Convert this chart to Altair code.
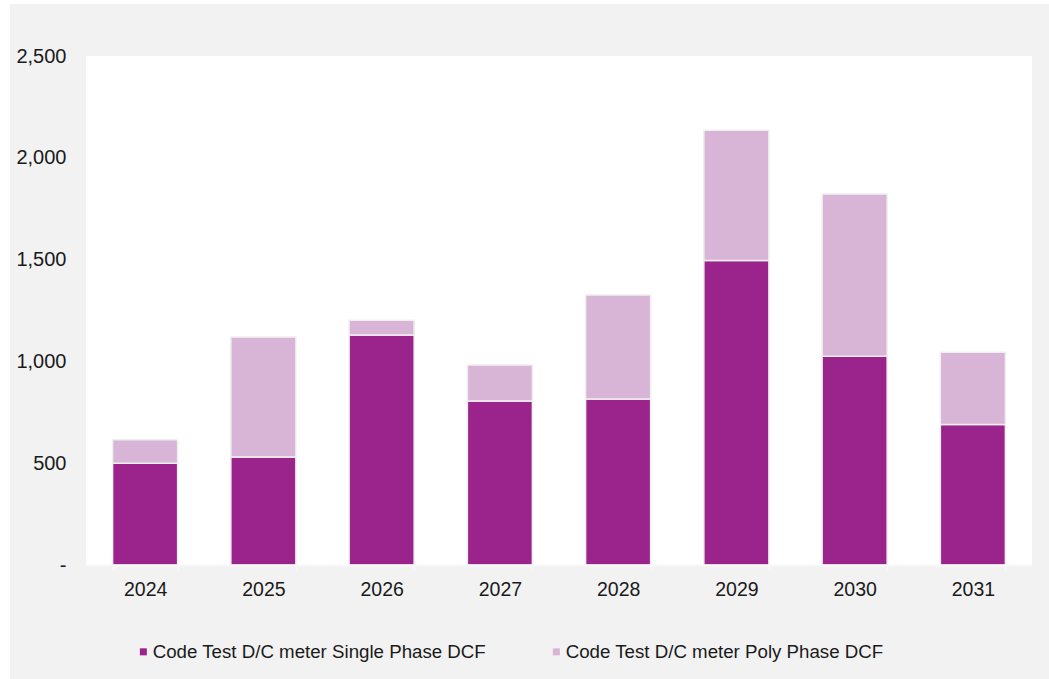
import altair as alt
import pandas as pd

years = ["2024", "2025", "2026", "2027", "2028", "2029", "2030", "2031"]
single_phase = [500, 530, 1130, 805, 815, 1495, 1025, 690]
poly_phase = [115, 590, 72, 177, 511, 640, 797, 355]
series_names = [
    "Code Test D/C meter Single Phase DCF",
    "Code Test D/C meter Poly Phase DCF",
]
series_colors = ["#9a248b", "#d8b5d6"]
y_ticks = [0, 500, 1000, 1500, 2000, 2500]

rows = []
for i, yr in enumerate(years):
    rows.append({"year": yr, "series": series_names[0], "value": single_phase[i], "order": 0})
    rows.append({"year": yr, "series": series_names[1], "value": poly_phase[i], "order": 1})
df = pd.DataFrame(rows)

W, H = 946, 509
FONT = "Liberation Sans"

one = pd.DataFrame({"k": [0]})

# grey outer panel and white plot panel
outer_panel = alt.Chart(one).mark_rect(color="#f2f2f2").encode(
    x=alt.value(-76), x2=alt.value(963), y=alt.value(-52), y2=alt.value(623)
)
plot_panel = alt.Chart(one).mark_rect(color="#ffffff").encode(
    x=alt.value(0), x2=alt.value(W), y=alt.value(0), y2=alt.value(H)
)

bars = alt.Chart(df).mark_bar(stroke="#efefef", strokeWidth=1.5).encode(
    x=alt.X(
        "year:N",
        sort=years,
        title=None,
        scale=alt.Scale(paddingInner=0.45, paddingOuter=0.225),
        axis=alt.Axis(
            labelAngle=0,
            labelFontSize=19.5,
            labelColor="#1a1a1a",
            labelPadding=10,
            tickSize=5,
            tickBand="extent",
            tickColor="#f7f7f7",
            tickWidth=2,
            domainColor="#f7f7f7",
            domainWidth=2,
            grid=False,
            zindex=1,
        ),
    ),
    y=alt.Y(
        "value:Q",
        stack="zero",
        title=None,
        scale=alt.Scale(domain=[0, 2500], nice=False),
        axis=alt.Axis(
            values=y_ticks,
            labelExpr="datum.value == 0 ? '-' : format(datum.value, ',')",
            labelFontSize=20,
            labelColor="#1a1a1a",
            labelPadding=20,
            ticks=False,
            domain=False,
            grid=False,
            zindex=1,
        ),
    ),
    color=alt.Color(
        "series:N",
        scale=alt.Scale(domain=series_names, range=series_colors),
        legend=alt.Legend(
            title=None,
            orient="none",
            legendX=48,
            legendY=586,
            direction="horizontal",
            symbolType="square",
            symbolSize=49,
            symbolStrokeWidth=0,
            labelFontSize=18.7,
            labelColor="#1a1a1a",
            labelOffset=0,
            columnPadding=60,
            padding=0,
            labelLimit=600,
        ),
    ),
    order=alt.Order("order:Q", sort="ascending"),
)

chart = (
    alt.layer(outer_panel, plot_panel, bars)
    .properties(
        width=W,
        height=H,
        autosize=alt.AutoSizeParams(type="none"),
        padding={"left": 86, "top": 56, "right": 17, "bottom": 114},
        background="#ffffff",
    )
    .configure_view(stroke=None)
    .configure(font=FONT)
)

chart.save("out.html", embed_options={"renderer": "svg", "actions": False})
